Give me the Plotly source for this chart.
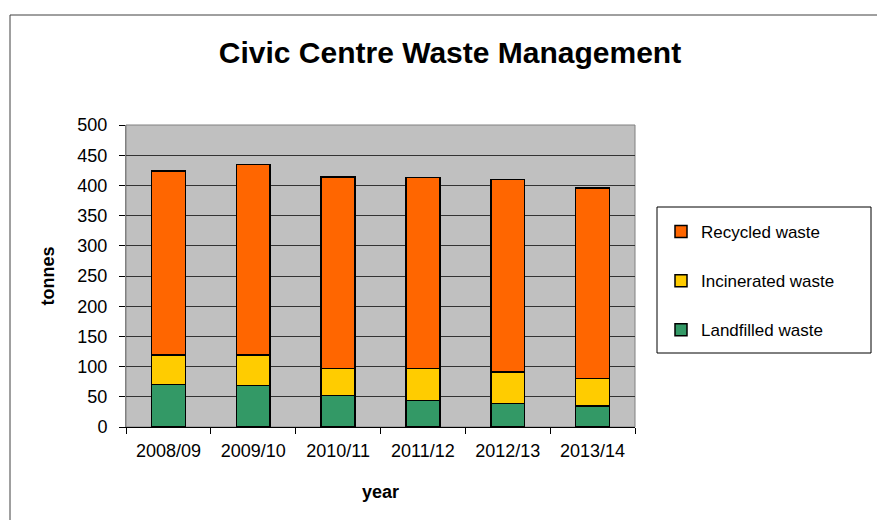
import plotly.graph_objects as go

years = ["2008/09", "2009/10", "2010/11", "2011/12", "2012/13", "2013/14"]
landfilled = [70, 69, 52, 44, 39, 35]
incinerated = [49, 50, 45, 53, 52, 45]
recycled = [305, 316, 317, 316, 319, 316]

series = [
    ("Landfilled waste", landfilled, "#339966", 3),
    ("Incinerated waste", incinerated, "#FFCC00", 2),
    ("Recycled waste", recycled, "#FF6600", 1),
]

FONT = "Liberation Sans, Arial, sans-serif"

fig = go.Figure()
for name, vals, col, rank in series:
    fig.add_trace(go.Bar(
        x=years, y=vals, name=name, legendgroup=name, legendrank=rank,
        marker=dict(color=col, line=dict(color="#000000", width=1.5)),
        width=0.4,
    ))

OFF = 8  # page offset of the plot div
W, H = 885 - OFF, 520 - OFF
# target screen-pixel positions of the plot area
SL, SR, ST, SB = 126, 635, 125, 427
L, T = SL - OFF, ST - OFF
R = W - (SR - OFF)
B = H - (SB - OFF)
pw, ph = W - L - R, H - T - B

def px_x(p):
    return (p - OFF - L) / pw

def px_y(p):
    return (H - B - (p - OFF)) / ph

fig.update_layout(
    width=W, height=H,
    margin=dict(l=L, r=R, t=T, b=B, autoexpand=False),
    barmode="stack",
    paper_bgcolor="white",
    plot_bgcolor="#C0C0C0",
    font=dict(family=FONT, color="#000000", size=17),
    title=dict(text="<b>Civic Centre Waste Management</b>", x=(450 - OFF) / W, xanchor="center",
               y=1 - (52 - OFF) / H, yanchor="middle", font=dict(size=30, family=FONT)),
    showlegend=True,
    legend=dict(traceorder="grouped", tracegroupgap=24,
                x=px_x(661), xanchor="left", y=px_y(214), yanchor="top",
                bgcolor="rgba(0,0,0,0)", borderwidth=0,
                font=dict(size=17, family=FONT)),
    bargap=0.6,
)

fig.update_yaxes(
    range=[0, 500], dtick=50, tick0=0,
    showgrid=True, gridcolor="#333333", gridwidth=1,
    zeroline=False,
    showline=True, linecolor="#808080", linewidth=1,
    ticks="outside", ticklen=6, tickcolor="#000000",
    ticklabelstandoff=8,
    tickfont=dict(size=18, family=FONT),
    title=dict(text="<b>tonnes</b>", font=dict(size=18, family=FONT), standoff=18),
)
fig.update_xaxes(
    showline=True, linecolor="#000000", linewidth=1,
    ticks="outside", ticklen=6, tickcolor="#000000", tickson="boundaries",
    ticklabelstandoff=7,
    showgrid=False,
    tickfont=dict(size=18, family=FONT),
    title=dict(text="<b>year</b>", font=dict(size=18, family=FONT), standoff=25),
)

shapes = [
    dict(type="rect", xref="paper", yref="paper", x0=0, x1=1, y0=0, y1=1,
         line=dict(color="#808080", width=1), layer="below"),
    dict(type="rect", xref="paper", yref="paper",
         x0=px_x(657), x1=px_x(871), y0=px_y(353), y1=px_y(207),
         line=dict(color="#000000", width=1), fillcolor="white", layer="below"),
    dict(type="rect", xref="paper", yref="paper",
         x0=px_x(10), x1=px_x(900), y0=px_y(540), y1=px_y(15),
         line=dict(color="#404040", width=1), layer="below"),
]
fig.update_layout(shapes=shapes)

fig.write_html("out.html")
